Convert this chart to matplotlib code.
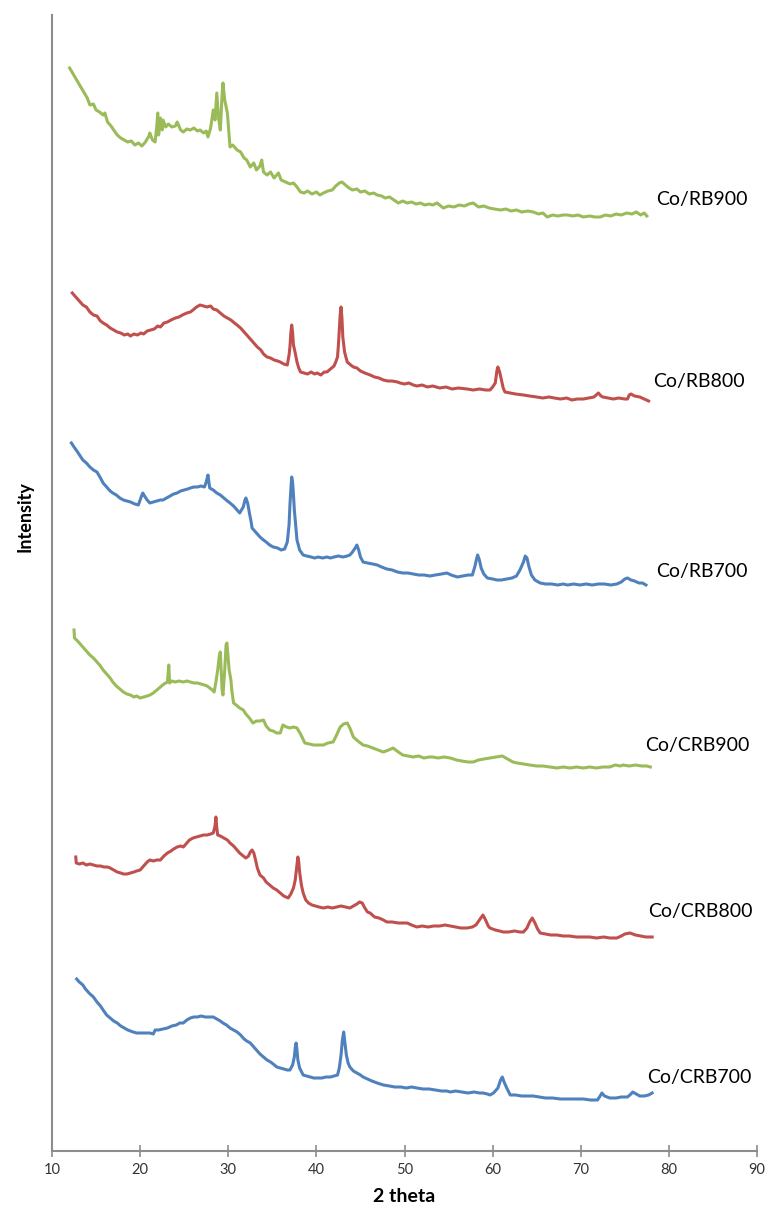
import numpy as np
import matplotlib
matplotlib.use("Agg")
import matplotlib.pyplot as plt

# XRD patterns as (2 theta, height below the plot top in px).
# intensity = TOP - reading, so larger means higher up on the chart.
TOP = 1151

rb900 = [(12.0, 68), (12.4, 74), (12.8, 80), (13.2, 86), (13.6, 92), (14.0, 98), (14.3, 105), (14.7, 104),
         (15.0, 110), (15.4, 112), (15.8, 115), (16.0, 113), (16.3, 122), (16.7, 126), (17.0, 130), (17.4, 135),
         (17.8, 138), (18.2, 140), (18.6, 142), (19.0, 141), (19.4, 145), (19.8, 143), (20.2, 146), (20.6, 142),
         (21.0, 136), (21.1, 133), (21.4, 140), (21.7, 142), (21.9, 125), (22.0, 113), (22.1, 135), (22.3, 118),
         (22.5, 130), (22.6, 120), (22.9, 127), (23.2, 124), (23.6, 127), (24.0, 126), (24.2, 122), (24.6, 130),
         (24.9, 132), (25.3, 129), (25.7, 130), (26.1, 128), (26.5, 131), (26.8, 130), (27.2, 133), (27.5, 131),
         (27.7, 137), (28.0, 128), (28.3, 110), (28.5, 120), (28.7, 93), (28.9, 118), (29.1, 130), (29.3, 95),
         (29.4, 83), (29.6, 100), (29.9, 113), (30.1, 135), (30.2, 147), (30.5, 145), (31.0, 150), (31.4, 152),
         (31.8, 158), (32.1, 160), (32.5, 167), (32.9, 163), (33.2, 170), (33.6, 166), (33.8, 160), (34.0, 172),
         (34.4, 175), (34.8, 172), (35.2, 178), (35.7, 173), (36.0, 180), (36.5, 182), (37.0, 184), (37.4, 183),
         (37.8, 187), (38.2, 192), (38.6, 193), (39.0, 191), (39.5, 194), (40.0, 192), (40.4, 195), (40.8, 193),
         (41.3, 191), (41.8, 190), (42.2, 186), (42.6, 183), (42.9, 182), (43.3, 185), (43.7, 188), (44.1, 190),
         (44.6, 189), (45.0, 192), (45.5, 191), (46.0, 194), (46.5, 193), (46.9, 195), (47.4, 196), (47.8, 198),
         (48.3, 197), (48.8, 200), (49.3, 203), (49.8, 201), (50.3, 203), (50.8, 202), (51.3, 204), (51.8, 203),
         (52.3, 205), (52.8, 204), (53.2, 205), (53.7, 203), (54.4, 208), (55.0, 206), (55.6, 207), (56.2, 205),
         (56.8, 206), (57.3, 204), (57.8, 203), (58.4, 207), (59.0, 206), (59.6, 208), (60.2, 209), (60.9, 210),
         (61.5, 209), (62.1, 211), (62.7, 210), (63.3, 212), (64.0, 211), (64.6, 212), (65.2, 214), (65.7, 213),
         (66.2, 217), (66.8, 215), (67.4, 216), (68.0, 215), (68.5, 215), (69.1, 216), (69.7, 215), (70.3, 217),
         (71.0, 216), (71.6, 217), (72.2, 217), (72.8, 215), (73.4, 216), (74.0, 214), (74.6, 215), (75.2, 213),
         (75.8, 214), (76.3, 212), (76.8, 215), (77.2, 213), (77.5, 216)]

rb800 = [(12.3, 293), (12.6, 296), (13.0, 300), (13.5, 305), (13.9, 307), (14.3, 312), (14.7, 315), (15.1, 316),
         (15.5, 321), (15.8, 323), (16.2, 325), (16.6, 328), (17.0, 330), (17.4, 332), (17.8, 333), (18.2, 335),
         (18.6, 334), (18.9, 336), (19.3, 334), (19.7, 335), (20.1, 333), (20.4, 334), (20.8, 331), (21.2, 330),
         (21.6, 329), (22.0, 326), (22.3, 327), (22.7, 323), (23.1, 322), (23.5, 320), (24.0, 318), (24.4, 317),
         (24.8, 315), (25.3, 313), (25.7, 312), (26.0, 310), (26.4, 307), (26.8, 305), (27.2, 306), (27.6, 307),
         (28.0, 306), (28.3, 309), (28.7, 310), (29.1, 313), (29.5, 316), (29.9, 318), (30.3, 320), (30.7, 323),
         (31.0, 325), (31.4, 328), (31.8, 332), (32.1, 335), (32.5, 339), (32.9, 343), (33.3, 347), (33.7, 350),
         (34.0, 354), (34.4, 357), (34.8, 358), (35.2, 360), (35.6, 361), (35.9, 362), (36.3, 364), (36.7, 365),
         (36.9, 355), (37.0, 347), (37.1, 333), (37.2, 325), (37.3, 332), (37.4, 345), (37.6, 353), (37.8, 362),
         (38.0, 368), (38.2, 372), (38.6, 373), (39.0, 374), (39.4, 372), (39.8, 374), (40.1, 373), (40.5, 375),
         (40.9, 372), (41.2, 372), (41.6, 369), (42.0, 366), (42.2, 362), (42.4, 357), (42.5, 345), (42.6, 330),
         (42.7, 315), (42.8, 307), (42.9, 318), (43.0, 337), (43.2, 352), (43.5, 362), (43.9, 365), (44.2, 367),
         (44.6, 368), (45.0, 371), (45.5, 373), (46.1, 375), (46.6, 377), (47.1, 378), (47.6, 380), (48.1, 381),
         (48.6, 381), (49.2, 382), (49.5, 383), (50.0, 384), (50.5, 383), (51.0, 385), (51.4, 386), (52.0, 385),
         (52.6, 387), (53.2, 386), (54.0, 388), (54.7, 387), (55.4, 389), (56.1, 388), (57.1, 389), (57.8, 390),
         (58.5, 389), (59.2, 390), (59.7, 390), (60.0, 387), (60.3, 383), (60.5, 370), (60.6, 367), (60.8, 372),
         (61.0, 380), (61.2, 388), (61.4, 392), (62.0, 393), (62.6, 394), (63.5, 395), (64.2, 396), (65.0, 397),
         (65.7, 398), (66.4, 397), (67.0, 398), (67.7, 399), (68.4, 398), (69.0, 400), (69.6, 399), (70.3, 399),
         (70.9, 398), (71.5, 397), (72.0, 393), (72.3, 396), (72.5, 397), (73.1, 398), (73.7, 399), (74.3, 398),
         (75.0, 399), (75.3, 399), (75.5, 395), (75.7, 394), (76.1, 396), (76.7, 397), (77.2, 399), (77.7, 401)]

rb700 = [(12.2, 443), (12.5, 447), (12.9, 452), (13.2, 456), (13.5, 460), (13.9, 463), (14.3, 467), (14.7, 470),
         (15.1, 472), (15.5, 478), (15.8, 483), (16.2, 487), (16.6, 491), (16.9, 493), (17.3, 495), (17.7, 498),
         (18.1, 500), (18.5, 501), (18.9, 502), (19.4, 504), (19.8, 505), (20.0, 500), (20.2, 495), (20.3, 493),
         (20.5, 496), (20.8, 500), (21.1, 503), (21.5, 502), (21.9, 501), (22.3, 500), (22.6, 500), (23.0, 498),
         (23.4, 496), (23.8, 494), (24.2, 493), (24.6, 491), (25.0, 490), (25.4, 489), (25.7, 488), (26.1, 487),
         (26.5, 487), (26.9, 486), (27.3, 487), (27.5, 482), (27.7, 475), (27.8, 482), (27.9, 488), (28.3, 490),
         (28.7, 493), (29.1, 495), (29.5, 498), (29.9, 501), (30.2, 503), (30.6, 506), (31.0, 510), (31.3, 513),
         (31.5, 510), (31.7, 507), (31.9, 500), (32.0, 498), (32.2, 503), (32.4, 513), (32.6, 522), (32.7, 528),
         (33.0, 531), (33.3, 534), (33.6, 537), (34.0, 540), (34.3, 542), (34.7, 545), (35.1, 547), (35.6, 548),
         (36.0, 550), (36.4, 549), (36.7, 542), (36.9, 525), (37.0, 505), (37.1, 490), (37.2, 477), (37.3, 482),
         (37.4, 495), (37.5, 510), (37.7, 530), (37.8, 540), (38.1, 550), (38.5, 555), (38.9, 556), (39.4, 557),
         (39.8, 558), (40.2, 557), (40.7, 558), (41.2, 557), (41.6, 558), (42.0, 557), (42.5, 556), (43.0, 557),
         (43.5, 556), (43.8, 555), (44.1, 552), (44.4, 548), (44.6, 545), (44.8, 550), (45.0, 557), (45.3, 562),
         (45.8, 563), (46.4, 564), (46.9, 565), (47.4, 567), (48.0, 569), (48.6, 570), (49.2, 572), (49.8, 573),
         (50.4, 573), (51.0, 574), (51.6, 575), (52.2, 575), (52.9, 576), (53.5, 575), (54.2, 574), (54.8, 573),
         (55.3, 575), (56.0, 577), (56.6, 576), (57.2, 575), (57.7, 575), (58.0, 566), (58.2, 558), (58.3, 555),
         (58.5, 560), (58.7, 568), (59.0, 574), (59.4, 578), (60.0, 579), (60.5, 580), (61.0, 580), (61.6, 579),
         (62.2, 578), (62.7, 576), (63.1, 570), (63.5, 562), (63.7, 556), (63.9, 558), (64.1, 566), (64.4, 575),
         (64.8, 580), (65.4, 583), (66.0, 584), (66.7, 584), (67.4, 585), (68.0, 584), (68.5, 585), (69.2, 584),
         (69.9, 585), (70.6, 584), (71.3, 585), (72.0, 584), (72.7, 584), (73.4, 585), (74.1, 584), (74.6, 582),
         (75.0, 579), (75.3, 578), (75.7, 580), (76.1, 581), (76.6, 583), (77.0, 583), (77.4, 585)]

crb900 = [(12.5, 630), (12.55, 638), (12.9, 641), (13.2, 644), (13.5, 647), (13.9, 651), (14.3, 655), (14.7, 658),
          (15.1, 662), (15.5, 666), (15.8, 670), (16.2, 674), (16.6, 678), (16.9, 682), (17.3, 686), (17.7, 689),
          (18.1, 692), (18.5, 694), (18.9, 695), (19.3, 697), (19.6, 696), (20.0, 698), (20.4, 697), (20.8, 696),
          (21.1, 695), (21.5, 693), (21.9, 690), (22.3, 687), (22.7, 684), (23.1, 682), (23.25, 665), (23.35, 683),
          (23.6, 681), (24.0, 682), (24.4, 681), (24.9, 682), (25.3, 681), (25.7, 682), (26.1, 683), (26.5, 683),
          (26.9, 684), (27.3, 685), (27.6, 686), (27.9, 688), (28.2, 690), (28.4, 692), (28.6, 682), (28.8, 670),
          (29.0, 655), (29.1, 652), (29.2, 670), (29.3, 690), (29.4, 695), (29.6, 670), (29.75, 645), (29.85, 643),
          (30.0, 660), (30.1, 670), (30.3, 680), (30.4, 690), (30.6, 703), (30.9, 705), (31.3, 708), (31.7, 710),
          (32.0, 714), (32.4, 718), (32.8, 723), (33.2, 721), (33.6, 721), (34.0, 720), (34.3, 726), (34.7, 730),
          (35.1, 731), (35.5, 733), (35.9, 733), (36.2, 725), (36.6, 727), (37.0, 728), (37.4, 727), (37.8, 728),
          (38.2, 734), (38.7, 743), (39.2, 744), (39.7, 745), (40.3, 745), (40.8, 745), (41.3, 743), (41.9, 742),
          (42.3, 735), (42.7, 727), (43.1, 724), (43.5, 723), (43.8, 728), (44.2, 737), (44.7, 741), (45.3, 745),
          (45.8, 746), (46.4, 748), (47.0, 750), (47.6, 752), (48.2, 750), (48.7, 748), (49.3, 752), (49.8, 755),
          (50.4, 756), (51.0, 757), (51.6, 756), (52.2, 758), (52.8, 757), (53.2, 757), (53.8, 758), (54.5, 757),
          (55.2, 758), (55.9, 760), (56.5, 761), (57.2, 762), (57.8, 762), (58.4, 760), (59.0, 759), (59.7, 758),
          (60.4, 757), (61.1, 756), (61.7, 759), (62.3, 762), (62.8, 763), (63.5, 764), (64.2, 765), (65.0, 766),
          (65.7, 766), (66.5, 767), (67.3, 768), (68.0, 767), (68.8, 768), (69.5, 767), (70.3, 768), (71.0, 767),
          (71.8, 768), (72.5, 767), (73.3, 767), (73.9, 765), (74.5, 766), (74.8, 765), (75.5, 766), (76.2, 765),
          (76.9, 766), (77.5, 766), (77.9, 767)]

crb800 = [(12.7, 857), (12.75, 863), (13.1, 864), (13.5, 863), (13.9, 865), (14.3, 864), (14.7, 865), (15.1, 866),
          (15.5, 866), (15.9, 867), (16.3, 867), (16.6, 868), (17.0, 870), (17.4, 872), (17.8, 873), (18.1, 874),
          (18.5, 874), (18.9, 873), (19.3, 872), (19.6, 871), (20.0, 870), (20.4, 866), (20.8, 862), (21.1, 860),
          (21.5, 861), (21.9, 860), (22.3, 860), (22.7, 856), (23.1, 853), (23.5, 851), (23.8, 849), (24.2, 847),
          (24.6, 846), (24.9, 847), (25.3, 843), (25.6, 840), (26.0, 838), (26.4, 837), (26.8, 836), (27.2, 835),
          (27.6, 835), (28.0, 834), (28.3, 833), (28.5, 826), (28.6, 817), (28.7, 828), (28.8, 835), (29.1, 836),
          (29.5, 838), (29.9, 840), (30.2, 843), (30.6, 846), (31.0, 850), (31.3, 853), (31.7, 856), (32.0, 858),
          (32.3, 856), (32.5, 852), (32.7, 850), (32.9, 853), (33.1, 860), (33.3, 868), (33.6, 875), (34.0, 878),
          (34.3, 882), (34.7, 885), (35.1, 888), (35.5, 890), (35.9, 893), (36.3, 896), (36.8, 898), (37.1, 894),
          (37.4, 888), (37.6, 880), (37.8, 865), (37.9, 857), (38.0, 862), (38.1, 872), (38.3, 885), (38.5, 893),
          (38.8, 900), (39.1, 903), (39.5, 905), (39.9, 906), (40.3, 907), (40.8, 908), (41.3, 907), (41.8, 908),
          (42.3, 907), (42.8, 906), (43.3, 907), (43.8, 908), (44.2, 906), (44.6, 904), (44.9, 902), (45.2, 903),
          (45.5, 908), (45.8, 912), (46.1, 913), (46.6, 917), (47.1, 918), (47.6, 920), (48.0, 922), (48.6, 922),
          (49.3, 923), (49.8, 923), (50.3, 923), (50.8, 925), (51.4, 927), (52.0, 926), (52.7, 927), (53.3, 926),
          (54.0, 926), (54.6, 925), (55.2, 926), (55.8, 927), (56.4, 928), (57.1, 928), (57.7, 927), (58.1, 925),
          (58.5, 920), (58.9, 915), (59.2, 920), (59.5, 926), (59.7, 928), (60.3, 930), (60.8, 931), (61.2, 932),
          (61.8, 932), (62.5, 931), (63.1, 932), (63.5, 932), (63.9, 928), (64.2, 922), (64.5, 918), (64.8, 923),
          (65.1, 929), (65.4, 933), (66.0, 934), (66.6, 935), (67.3, 935), (68.0, 936), (68.7, 936), (69.5, 937),
          (70.3, 937), (71.0, 937), (71.8, 938), (72.6, 937), (73.3, 938), (74.1, 938), (74.6, 936), (75.0, 934),
          (75.6, 933), (76.2, 935), (76.8, 936), (77.4, 937), (78.1, 937)]

crb700 = [(12.8, 979), (13.1, 982), (13.5, 985), (13.8, 989), (14.2, 993), (14.7, 997), (15.1, 1002), (15.5, 1006),
          (15.8, 1010), (16.2, 1015), (16.6, 1018), (17.0, 1021), (17.4, 1023), (17.8, 1026), (18.2, 1028),
          (18.6, 1030), (19.2, 1032), (19.6, 1033), (20.1, 1033), (20.6, 1033), (21.1, 1033), (21.5, 1034),
          (21.7, 1030), (22.1, 1030), (22.6, 1029), (23.1, 1028), (23.6, 1026), (24.1, 1025), (24.5, 1023),
          (24.9, 1023), (25.3, 1020), (25.7, 1018), (26.1, 1017), (26.5, 1017), (26.9, 1016), (27.4, 1017),
          (27.9, 1017), (28.3, 1017), (28.7, 1019), (29.1, 1021), (29.4, 1023), (29.8, 1025), (30.2, 1028),
          (30.6, 1030), (31.0, 1032), (31.4, 1035), (31.8, 1039), (32.1, 1041), (32.5, 1043), (32.9, 1047),
          (33.3, 1051), (33.6, 1054), (34.0, 1057), (34.4, 1060), (34.8, 1062), (35.1, 1064), (35.5, 1067),
          (35.9, 1068), (36.3, 1069), (36.7, 1070), (37.0, 1070), (37.3, 1065), (37.5, 1057), (37.6, 1048),
          (37.7, 1043), (37.8, 1050), (37.9, 1060), (38.1, 1068), (38.5, 1075), (38.9, 1076), (39.3, 1077),
          (39.7, 1078), (40.1, 1078), (40.6, 1078), (41.1, 1077), (41.6, 1077), (42.0, 1076), (42.4, 1075),
          (42.6, 1068), (42.8, 1055), (42.95, 1040), (43.1, 1032), (43.2, 1040), (43.4, 1055), (43.6, 1063),
          (43.8, 1067), (44.2, 1071), (44.6, 1073), (45.0, 1075), (45.3, 1077), (45.8, 1079), (46.3, 1081),
          (46.9, 1083), (47.6, 1085), (48.3, 1086), (48.9, 1087), (49.6, 1087), (50.2, 1088), (50.8, 1087),
          (51.4, 1088), (52.1, 1089), (52.8, 1089), (53.5, 1090), (54.2, 1091), (54.8, 1091), (55.2, 1092),
          (55.8, 1091), (56.5, 1092), (57.2, 1093), (57.9, 1092), (58.5, 1093), (58.9, 1093), (59.4, 1094),
          (59.7, 1095), (60.1, 1093), (60.4, 1090), (60.6, 1088), (60.9, 1080), (61.1, 1077), (61.3, 1082),
          (61.6, 1088), (62.0, 1095), (62.6, 1095), (63.3, 1096), (64.0, 1096), (64.6, 1096), (65.3, 1097),
          (66.0, 1098), (66.8, 1098), (67.7, 1099), (68.5, 1099), (69.3, 1099), (70.3, 1099), (71.1, 1100),
          (71.9, 1100), (72.2, 1096), (72.4, 1093), (72.7, 1096), (73.3, 1098), (74.0, 1098), (74.6, 1097),
          (75.3, 1097), (75.7, 1094), (75.9, 1092), (76.3, 1094), (76.7, 1096), (77.2, 1096), (77.7, 1095),
          (78.1, 1093)]

samples = ["Co/RB900", "Co/RB800", "Co/RB700", "Co/CRB900", "Co/CRB800", "Co/CRB700"]
label_x = [78.6, 78.2, 78.6, 77.3, 77.6, 77.5]
label_y = [200, 382, 572, 746, 912, 1077]

green, red, blue = "#9BBB59", "#C0504D", "#4F81BD"
colors = [green, red, blue, green, red, blue]
traces = [rb900, rb800, rb700, crb900, crb800, crb700]

plt.rcParams["font.family"] = ["Lato", "DejaVu Sans"]

fig = plt.figure(figsize=(7.7, 12.14), dpi=100)
ax = fig.add_axes([52 / 770, 63 / 1214, 705 / 770, 1136 / 1214])

for data, col in zip(traces, colors):
    x, y = np.array(data).T
    ax.plot(x, TOP - y, color=col, linewidth=2.2, solid_joinstyle="round")

for name, lx, ly in zip(samples, label_x, label_y):
    ax.text(lx, TOP - ly, name, fontsize=14, color="black", va="center", ha="left")

ax.set_xlim(10, 90)
ax.set_ylim(0, 1136)
ax.set_xticks(range(10, 91, 10))
ax.set_yticks([])
ax.tick_params(axis="x", direction="inout", length=9, width=1.2, color="#8c8c8c",
               labelsize=10.5, labelcolor="#333333", pad=4)
for side in ["top", "right"]:
    ax.spines[side].set_visible(False)
for side in ["left", "bottom"]:
    ax.spines[side].set_color("#8c8c8c")
    ax.spines[side].set_linewidth(1.5)

ax.set_xlabel("2 theta", fontsize=14, fontweight="bold", labelpad=8)
fig.text(25 / 770, 1 - 517 / 1214, "Intensity", rotation=90, fontsize=13,
         fontweight="bold", ha="center", va="center")

fig.savefig("out.png", dpi=100)
